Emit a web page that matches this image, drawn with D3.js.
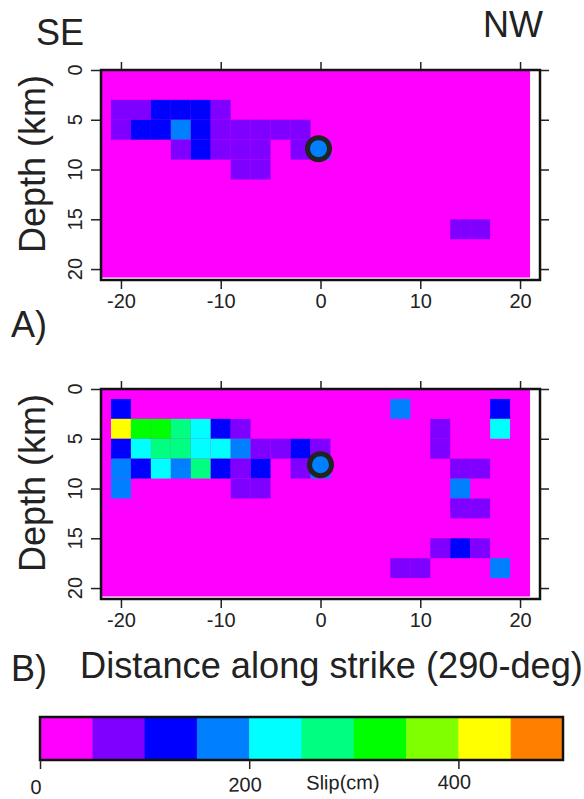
<!DOCTYPE html>
<html>
<head>
<meta charset="utf-8">
<script src="https://cdn.jsdelivr.net/npm/d3@7/dist/d3.min.js"></script>
<style>
  body { margin: 0; background: #fff; }
  text { font-family: "Liberation Sans", Arial, sans-serif; fill: #222; }
</style>
</head>
<body>
<svg id="chart" width="584" height="799"></svg>
<script>
// axis ticks
const strikeTicks = [-20, -10, 0, 10, 20];
const depthTicks = [0, 5, 10, 15, 20];
const barTicks = [0, 200, 400];

// colour classes, 50 cm each
const slipBreaks = [50, 100, 150, 200, 250, 300, 350, 400, 450];
const slipColors = ['#ff00ff', '#8000ff', '#0000ff', '#0080ff', '#00ffff',
                    '#00ff80', '#00ff00', '#80ff00', '#ffff00', '#ff8000'];

// subfault size (km)
const cellW = 2, cellH = 2;

// non-zero subfaults: [strike centre km, depth centre km, slip cm]
const slipA = [
  [-20, 4, 75], [-18, 4, 75], [-16, 4, 125], [-14, 4, 125], [-12, 4, 125], [-10, 4, 75],
  [-20, 6, 75], [-18, 6, 125], [-16, 6, 125], [-14, 6, 175], [-12, 6, 125], [-10, 6, 75],
  [-8, 6, 75], [-6, 6, 75], [-4, 6, 75], [-2, 6, 75],
  [-14, 8, 75], [-12, 8, 125], [-10, 8, 75], [-8, 8, 75], [-6, 8, 75], [-2, 8, 75], [0, 8, 175],
  [-8, 10, 75], [-6, 10, 75],
  [14, 16, 75], [16, 16, 75]
];
const slipB = [
  [-20, 2, 125], [8, 2, 175], [18, 2, 125],
  [-20, 4, 425], [-18, 4, 325], [-16, 4, 325], [-14, 4, 275], [-12, 4, 225], [-10, 4, 125],
  [-8, 4, 75], [12, 4, 75], [18, 4, 225],
  [-20, 6, 125], [-18, 6, 225], [-16, 6, 275], [-14, 6, 275], [-12, 6, 225], [-10, 6, 225],
  [-8, 6, 175], [-6, 6, 75], [-4, 6, 75], [-2, 6, 125], [0, 6, 75], [12, 6, 75],
  [-20, 8, 175], [-18, 8, 125], [-16, 8, 225], [-14, 8, 175], [-12, 8, 275], [-10, 8, 125],
  [-8, 8, 75], [-6, 8, 125], [-2, 8, 75], [0, 8, 175], [14, 8, 75], [16, 8, 75],
  [-20, 10, 175], [-8, 10, 75], [-6, 10, 75], [14, 10, 175],
  [14, 12, 75], [16, 12, 75],
  [12, 16, 75], [14, 16, 125], [16, 16, 75],
  [8, 18, 75], [10, 18, 75], [18, 18, 175]
];

// hypocentres [strike km, depth km]
const hypoA = [-0.2, 7.9];
const hypoB = [0, 7.6];

const svg = d3.select('#chart');
const color = d3.scaleThreshold().domain(slipBreaks).range(slipColors);

const x = d3.scaleLinear().domain([-22, 22]).range([101, 540]);

function drawPanel(top, cells, hypo, label, labelY) {
    const y = d3.scaleLinear().domain([0, 21.1]).range([top, top + 210]);
    const g = svg.append('g');

    // zero-slip background
    g.append('rect')
        .attr('x', x(-22)).attr('y', y(0))
        .attr('width', x(21) - x(-22)).attr('height', y(20.85) - y(0))
        .attr('fill', color(0));

    g.selectAll('.cell')
        .data(cells)
        .enter()
        .append('rect')
        .attr('class', 'cell')
        .attr('x', d => x(d[0] - cellW / 2))
        .attr('y', d => y(d[1] - cellH / 2))
        .attr('width', x(cellW) - x(0))
        .attr('height', y(cellH) - y(0))
        .attr('fill', d => color(d[2]));

    g.append('circle')
        .attr('cx', x(hypo[0])).attr('cy', y(hypo[1]))
        .attr('r', 11)
        .attr('fill', '#0080ff')
        .attr('stroke', '#222')
        .attr('stroke-width', 5);

    // axes
    const bottomAxis = g.append('g')
        .attr('transform', `translate(0,${y.range()[1]})`)
        .call(d3.axisBottom(x).tickValues(strikeTicks).tickSize(9).tickSizeOuter(0)
            .tickPadding(5).tickFormat(d => String(d)));
    const topAxis = g.append('g')
        .attr('transform', `translate(0,${y(0)})`)
        .call(d3.axisTop(x).tickValues(strikeTicks).tickSize(8).tickFormat(''));
    const leftAxis = g.append('g')
        .attr('transform', `translate(${x(-22)},0)`)
        .call(d3.axisLeft(y).tickValues(depthTicks).tickSize(10).tickFormat(''));
    const rightAxis = g.append('g')
        .attr('transform', `translate(${x(22)},0)`)
        .call(d3.axisRight(y).tickValues(depthTicks).tickSize(9).tickFormat(''));

    [bottomAxis, topAxis, leftAxis, rightAxis].forEach(a => {
        a.select('.domain').remove();
        a.selectAll('line').attr('stroke', '#222').attr('stroke-width', 1.5);
    });
    bottomAxis.selectAll('text')
        .attr('font-size', 20)
        .attr('font-family', '"Liberation Sans", Arial, sans-serif')
        .attr('fill', '#222');

    // rotated depth labels
    g.selectAll('.dlab')
        .data(depthTicks)
        .enter()
        .append('text')
        .attr('class', 'dlab')
        .attr('transform', d => `translate(82,${y(d)}) rotate(-90)`)
        .attr('text-anchor', 'middle')
        .attr('font-size', 20)
        .text(d => d);

    g.append('text')
        .attr('transform', `translate(45,${top + 94}) rotate(-90)`)
        .attr('text-anchor', 'middle')
        .attr('font-size', 36)
        .text('Depth (km)');

    // frame
    g.append('rect')
        .attr('x', x(-22)).attr('y', y(0))
        .attr('width', x(22) - x(-22)).attr('height', y.range()[1] - y(0))
        .attr('fill', 'none')
        .attr('stroke', '#111')
        .attr('stroke-width', 2.5);

    g.append('text')
        .attr('x', 11).attr('y', labelY)
        .attr('font-size', 36)
        .text(label);
}

drawPanel(70, slipA, hypoA, 'A)', 337);
drawPanel(389, slipB, hypoB, 'B)', 681);

svg.append('text').attr('x', 36).attr('y', 45).attr('font-size', 36).text('SE');
svg.append('text').attr('x', 483).attr('y', 37).attr('font-size', 36).text('NW');
svg.append('text').attr('x', 80).attr('y', 678).attr('font-size', 36.2)
    .text('Distance along strike (290-deg)');

// colour bar
const bx = d3.scaleLinear().domain([0, 500]).range([40, 563]);
const barTop = 717, barBottom = 760;
const bar = svg.append('g');
bar.selectAll('rect')
    .data(slipColors)
    .enter()
    .append('rect')
    .attr('x', (d, i) => bx(i * 50))
    .attr('y', barTop)
    .attr('width', bx(50) - bx(0) + 0.5)
    .attr('height', barBottom - barTop)
    .attr('fill', d => d);
bar.append('rect')
    .attr('x', bx(0)).attr('y', barTop)
    .attr('width', bx(500) - bx(0)).attr('height', barBottom - barTop)
    .attr('fill', 'none').attr('stroke', '#111').attr('stroke-width', 2.5);

const barAxis = bar.append('g')
    .attr('transform', `translate(0,${barBottom})`)
    .call(d3.axisBottom(bx).tickValues(barTicks).tickSize(9).tickFormat(''));
barAxis.select('.domain').remove();
barAxis.selectAll('line').attr('stroke', '#222').attr('stroke-width', 1.5);

// labels sit on a slightly tilted line in the original
const barLabels = bar.append('g').attr('transform', 'rotate(-0.7,40,794)');
barLabels.selectAll('.blab')
    .data(barTicks)
    .enter()
    .append('text')
    .attr('class', 'blab')
    .attr('x', d => bx(d) - 4)
    .attr('y', 794)
    .attr('text-anchor', 'middle')
    .attr('font-size', 20)
    .text(d => d);
barLabels.append('text')
    .attr('x', 343).attr('y', 793)
    .attr('text-anchor', 'middle')
    .attr('font-size', 20)
    .text('Slip(cm)');
</script>
</body>
</html>
